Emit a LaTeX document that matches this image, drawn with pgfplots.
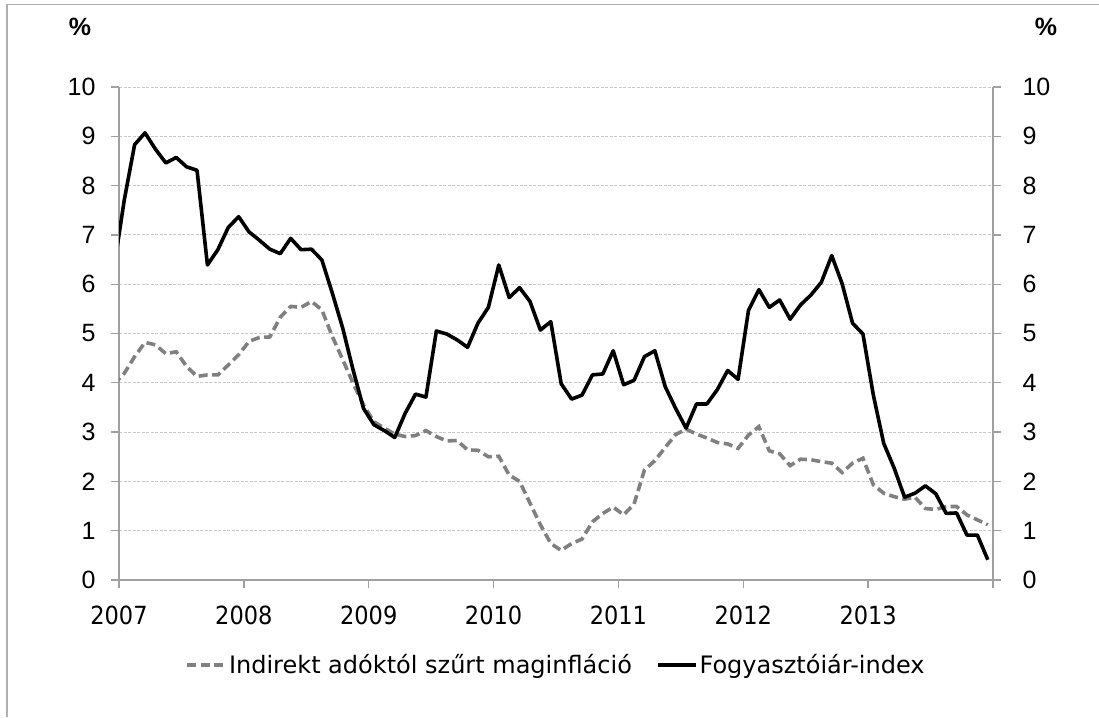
\documentclass[border=0pt]{standalone}
\usepackage{fontspec}
\setmainfont{DejaVu Sans Condensed}
\newfontfamily\legf{DejaVu Sans}
\newfontfamily\arialf{Liberation Sans}
\usepackage{pgfplots}
\pgfplotsset{compat=1.18}
\usepackage{pgfplotstable}
\definecolor{axgray}{HTML}{A0A0A0}
\definecolor{gridgray}{HTML}{C8C8C8}
\definecolor{coregray}{HTML}{808080}
\definecolor{framegray}{HTML}{B0B0B0}

\pgfplotstableread{
x y
-0.5 6.30
0.5 7.70
1.5 8.83
2.5 9.07
3.5 8.74
4.5 8.46
5.5 8.57
6.5 8.38
7.5 8.31
8.5 6.39
9.5 6.70
10.5 7.15
11.5 7.37
12.5 7.06
13.5 6.89
14.5 6.71
15.5 6.62
16.5 6.93
17.5 6.70
18.5 6.71
19.5 6.49
20.5 5.82
21.5 5.11
22.5 4.26
23.5 3.48
24.5 3.15
25.5 3.03
26.5 2.89
27.5 3.38
28.5 3.77
29.5 3.71
30.5 5.05
31.5 4.99
32.5 4.87
33.5 4.72
34.5 5.21
35.5 5.53
36.5 6.39
37.5 5.73
38.5 5.93
39.5 5.65
40.5 5.07
41.5 5.24
42.5 3.98
43.5 3.67
44.5 3.75
45.5 4.16
46.5 4.18
47.5 4.65
48.5 3.96
49.5 4.05
50.5 4.53
51.5 4.65
52.5 3.92
53.5 3.48
54.5 3.08
55.5 3.57
56.5 3.57
57.5 3.86
58.5 4.25
59.5 4.07
60.5 5.47
61.5 5.89
62.5 5.53
63.5 5.68
64.5 5.29
65.5 5.58
66.5 5.78
67.5 6.04
68.5 6.58
69.5 6.01
70.5 5.21
71.5 4.99
72.5 3.75
73.5 2.77
74.5 2.27
75.5 1.68
76.5 1.76
77.5 1.91
78.5 1.75
79.5 1.35
80.5 1.36
81.5 0.91
82.5 0.91
83.5 0.41
}\cpi

\pgfplotstableread{
x y
-0.5 3.97
0.5 4.19
1.5 4.53
2.5 4.82
3.5 4.77
4.5 4.59
5.5 4.63
6.5 4.33
7.5 4.13
8.5 4.16
9.5 4.16
10.5 4.36
11.5 4.57
12.5 4.84
13.5 4.92
14.5 4.93
15.5 5.33
16.5 5.55
17.5 5.53
18.5 5.65
19.5 5.48
20.5 4.94
21.5 4.47
22.5 3.99
23.5 3.55
24.5 3.21
25.5 3.08
26.5 2.96
27.5 2.91
28.5 2.93
29.5 3.03
30.5 2.91
31.5 2.82
32.5 2.83
33.5 2.64
34.5 2.63
35.5 2.50
36.5 2.51
37.5 2.13
38.5 2.00
39.5 1.56
40.5 1.12
41.5 0.74
42.5 0.60
43.5 0.74
44.5 0.83
45.5 1.18
46.5 1.35
47.5 1.48
48.5 1.32
49.5 1.54
50.5 2.23
51.5 2.42
52.5 2.69
53.5 2.95
54.5 3.06
55.5 2.96
56.5 2.88
57.5 2.79
58.5 2.76
59.5 2.67
60.5 2.94
61.5 3.11
62.5 2.62
63.5 2.56
64.5 2.32
65.5 2.45
66.5 2.44
67.5 2.40
68.5 2.37
69.5 2.18
70.5 2.37
71.5 2.47
72.5 1.93
73.5 1.76
74.5 1.69
75.5 1.64
76.5 1.68
77.5 1.45
78.5 1.43
79.5 1.49
80.5 1.49
81.5 1.32
82.5 1.22
83.5 1.12
}\core

\begin{document}
\begin{tikzpicture}[x=1pt,y=1pt]
\path[use as bounding box] (0,0) rectangle (1099,717);
\draw[framegray, line width=1.6pt] (7,0) -- (7,712.5) -- (1099,712.5);
\node[font=\arialf\bfseries\fontsize{25}{28}\selectfont] at (80,690) {\%};
\node[font=\arialf\bfseries\fontsize{25}{28}\selectfont] at (1046,690) {\%};

\begin{axis}[
  at={(119pt,137pt)}, anchor=south west,
  scale only axis, width=874pt, height=493pt,
  xmin=0, xmax=84, ymin=0, ymax=10,
  axis lines*=left,
  axis line style={axgray, line width=1.3pt},
  every tick/.style={axgray, line width=1.3pt},
  tick align=outside, major tick length=8pt,
  xtick={0,12,...,84},
  xticklabels={2007,2008,2009,2010,2011,2012,2013,},
  ytick={0,1,...,10},
  ymajorgrids,
  grid style={gridgray, line width=0.9pt, dash pattern=on 3pt off 1.5pt},
  xticklabel style={font=\fontsize{25}{28}\selectfont, yshift=-14pt},
  yticklabel style={font=\arialf\fontsize{25}{28}\selectfont, xshift=-12pt},
  /pgf/number format/assume math mode=true,
  legend style={at={(0.5,-0.172)}, anchor=center, draw=none, fill=none,
    font=\legf\fontsize{24}{28}\selectfont, legend columns=2,
    /tikz/every even column/.append style={column sep=22pt}},
  legend image code/.code={\draw[#1] (0pt,0pt) -- (38pt,0pt);},
  clip=true,
]
\addplot[coregray, line width=3.6pt, dash pattern=on 9pt off 4.5pt] table[x=x,y=y] {\core};
\addlegendentry{Indirekt adóktól szűrt maginfláció}
\addplot[black, line width=3.6pt, line join=round] table[x=x,y=y] {\cpi};
\addlegendentry{Fogyasztóiár-index}
\end{axis}

\begin{axis}[
  at={(119pt,137pt)}, anchor=south west,
  scale only axis, width=874pt, height=493pt,
  xmin=0, xmax=84, ymin=0, ymax=10,
  axis y line*=right, hide x axis,
  axis line style={axgray, line width=1.3pt},
  every tick/.style={axgray, line width=1.3pt},
  tick align=outside, major tick length=8pt,
  ytick={0,1,...,10},
  yticklabel style={font=\arialf\fontsize{25}{28}\selectfont, xshift=18pt},
  /pgf/number format/assume math mode=true,
]
\end{axis}
\end{tikzpicture}
\end{document}
